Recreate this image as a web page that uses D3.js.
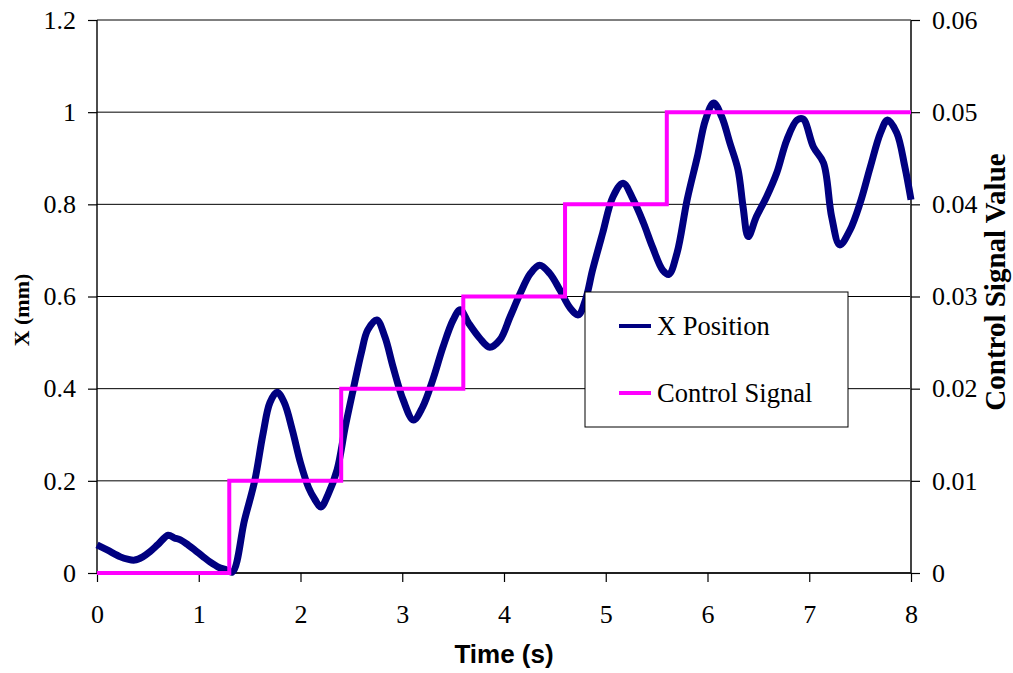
<!DOCTYPE html>
<html>
<head>
<meta charset="utf-8">
<script src="https://cdn.jsdelivr.net/npm/d3@7"></script>
<style>
  html, body { margin: 0; padding: 0; background: #fff; }
  svg { display: block; }
</style>
</head>
<body>
<svg id="chart" width="1013" height="673"></svg>
<script>
// Measured position of the stage (mm) over time (s)
const posTime = [0.00, 0.10, 0.23, 0.30, 0.37, 0.45, 0.52, 0.60, 0.70, 0.76, 0.82, 0.90, 0.96, 1.04, 1.11, 1.20, 1.26, 1.33,
  1.45, 1.55, 1.63, 1.70, 1.77, 1.84, 1.92, 2.00, 2.08, 2.14, 2.20, 2.27, 2.36, 2.44, 2.52, 2.60, 2.66, 2.75,
  2.83, 2.91, 3.01, 3.11, 3.20, 3.30, 3.40, 3.50, 3.57, 3.65, 3.76, 3.86, 3.96, 4.06, 4.16, 4.26, 4.35, 4.45,
  4.55, 4.65, 4.73, 4.80, 4.87, 4.97, 5.07, 5.17, 5.27, 5.37, 5.46, 5.56, 5.62, 5.70, 5.80, 5.90, 5.98, 6.06,
  6.14, 6.22, 6.30, 6.35, 6.40, 6.48, 6.58, 6.68, 6.78, 6.88, 6.94, 7.04, 7.14, 7.22, 7.30, 7.40, 7.50, 7.60,
  7.70, 7.77, 7.86, 7.94, 8.00];
const posValue = [0.061, 0.050, 0.035, 0.030, 0.028, 0.035, 0.046, 0.062, 0.082, 0.076, 0.072, 0.060, 0.050, 0.036, 0.024, 0.012, 0.008, 0.002,
  0.115, 0.200, 0.300, 0.370, 0.392, 0.370, 0.310, 0.239, 0.185, 0.160, 0.143, 0.170, 0.224, 0.317, 0.400, 0.480, 0.527, 0.549,
  0.512, 0.447, 0.375, 0.332, 0.360, 0.419, 0.490, 0.549, 0.571, 0.543, 0.510, 0.490, 0.506, 0.556, 0.607, 0.650, 0.668, 0.650,
  0.614, 0.575, 0.560, 0.592, 0.657, 0.738, 0.816, 0.846, 0.810, 0.760, 0.707, 0.657, 0.648, 0.694, 0.810, 0.903, 0.983, 1.020,
  0.990, 0.933, 0.875, 0.794, 0.730, 0.773, 0.816, 0.868, 0.940, 0.983, 0.985, 0.925, 0.890, 0.773, 0.712, 0.744, 0.803, 0.881,
  0.955, 0.983, 0.955, 0.881, 0.810];

// Control signal: step changes (time, value held until the next step)
const ctrlTime = [0, 1.3, 2.4, 3.6, 4.6, 5.6, 8.0];
const ctrlValue = [0, 0.01, 0.02, 0.03, 0.04, 0.05, 0.05];

const xTicks = [0, 1, 2, 3, 4, 5, 6, 7, 8];
const yLeftTicks = [0, 0.2, 0.4, 0.6, 0.8, 1.0, 1.2];
const yRightTicks = [0, 0.01, 0.02, 0.03, 0.04, 0.05, 0.06];
const seriesNames = ["X Position", "Control Signal"];

const SERIF = '"Liberation Serif"';
const SANS = '"Liberation Sans"';

const svg = d3.select("#chart");
const plot = { left: 97, right: 911, top: 20, bottom: 573 };

const x = d3.scaleLinear().domain([0, 8]).range([plot.left, plot.right]);
const yL = d3.scaleLinear().domain([0, 1.2]).range([plot.bottom, plot.top]);
const yR = d3.scaleLinear().domain([0, 0.06]).range([plot.bottom, plot.top]);

// Horizontal gridlines
svg.append("g")
  .selectAll("line")
  .data(yLeftTicks)
  .join("line")
  .attr("x1", plot.left).attr("x2", plot.right)
  .attr("y1", d => yL(d)).attr("y2", d => yL(d))
  .attr("stroke", "#000").attr("stroke-width", 1);

// Axes
const axL = svg.append("g").attr("transform", `translate(${plot.left},0)`)
  .call(d3.axisLeft(yL).tickValues(yLeftTicks).tickSize(9).tickPadding(12).tickFormat(d => +d.toFixed(1)));
const axR = svg.append("g").attr("transform", `translate(${plot.right},0)`)
  .call(d3.axisRight(yR).tickValues(yRightTicks).tickSize(9).tickPadding(12).tickFormat(d => +d.toFixed(2)));
const axB = svg.append("g").attr("transform", `translate(0,${plot.bottom})`)
  .call(d3.axisBottom(x).tickValues(xTicks).tickSize(9).tickPadding(23).tickFormat(d3.format("d")));

[axL, axR, axB].forEach(g => {
  g.select(".domain").attr("stroke", "#000").attr("stroke-width", 1.4);
  g.selectAll(".tick line").attr("stroke", "#000").attr("stroke-width", 1.2);
  g.selectAll(".tick text")
    .style("font-family", SERIF).style("font-size", "26px").attr("fill", "#000");
});
axL.select(".domain").attr("d", `M0,${plot.bottom}V${plot.top}`);
axR.select(".domain").attr("d", `M0,${plot.bottom}V${plot.top}`).attr("stroke", "#444").attr("stroke-width", 2);
axB.select(".domain").attr("d", `M${plot.left},0H${plot.right}`);

// Position trace
const posData = posTime.map((t, i) => ({ t, v: posValue[i] }));
svg.append("path")
  .datum(posData)
  .attr("fill", "none")
  .attr("stroke", "#000080")
  .attr("stroke-width", 7)
  .attr("stroke-linejoin", "round")
  .attr("d", d3.line().x(d => x(d.t)).y(d => yL(d.v)).curve(d3.curveCatmullRom.alpha(0.5)));

// Control signal staircase
const ctrlData = ctrlTime.map((t, i) => ({ t, v: ctrlValue[i] }));
svg.append("path")
  .datum(ctrlData)
  .attr("fill", "none")
  .attr("stroke", "#FF00FF")
  .attr("stroke-width", 4)
  .attr("d", d3.line().x(d => x(d.t)).y(d => yR(d.v)).curve(d3.curveStepAfter));

// Axis titles
svg.append("text")
  .attr("x", 504).attr("y", 663)
  .attr("text-anchor", "middle")
  .style("font-family", SANS).style("font-weight", "bold").style("font-size", "26px")
  .text("Time (s)");

svg.append("text")
  .attr("transform", "translate(29,310) rotate(-90)")
  .attr("text-anchor", "middle")
  .style("font-family", SERIF).style("font-weight", "bold").style("font-size", "22px")
  .text("X  (mm)");

svg.append("text")
  .attr("transform", "translate(1005,282) rotate(-90)")
  .attr("text-anchor", "middle")
  .style("font-family", SERIF).style("font-weight", "bold").style("font-size", "29px")
  .text("Control Signal Value");

// Legend
const legend = svg.append("g").attr("transform", "translate(585,292)");
legend.append("rect")
  .attr("width", 263).attr("height", 135)
  .attr("fill", "#fff").attr("stroke", "#000").attr("stroke-width", 1);
const colors = ["#000080", "#FF00FF"];
const rows = legend.selectAll("g.row").data(seriesNames).join("g")
  .attr("class", "row")
  .attr("transform", (d, i) => `translate(0,${34 + i * 67})`);
rows.append("line")
  .attr("x1", 34).attr("x2", 66).attr("y1", 0).attr("y2", 0)
  .attr("stroke", (d, i) => colors[i]).attr("stroke-width", 4);
rows.append("text")
  .attr("x", 72).attr("y", 9)
  .style("font-family", SERIF).style("font-size", "26.5px")
  .text(d => d);
</script>
</body>
</html>
